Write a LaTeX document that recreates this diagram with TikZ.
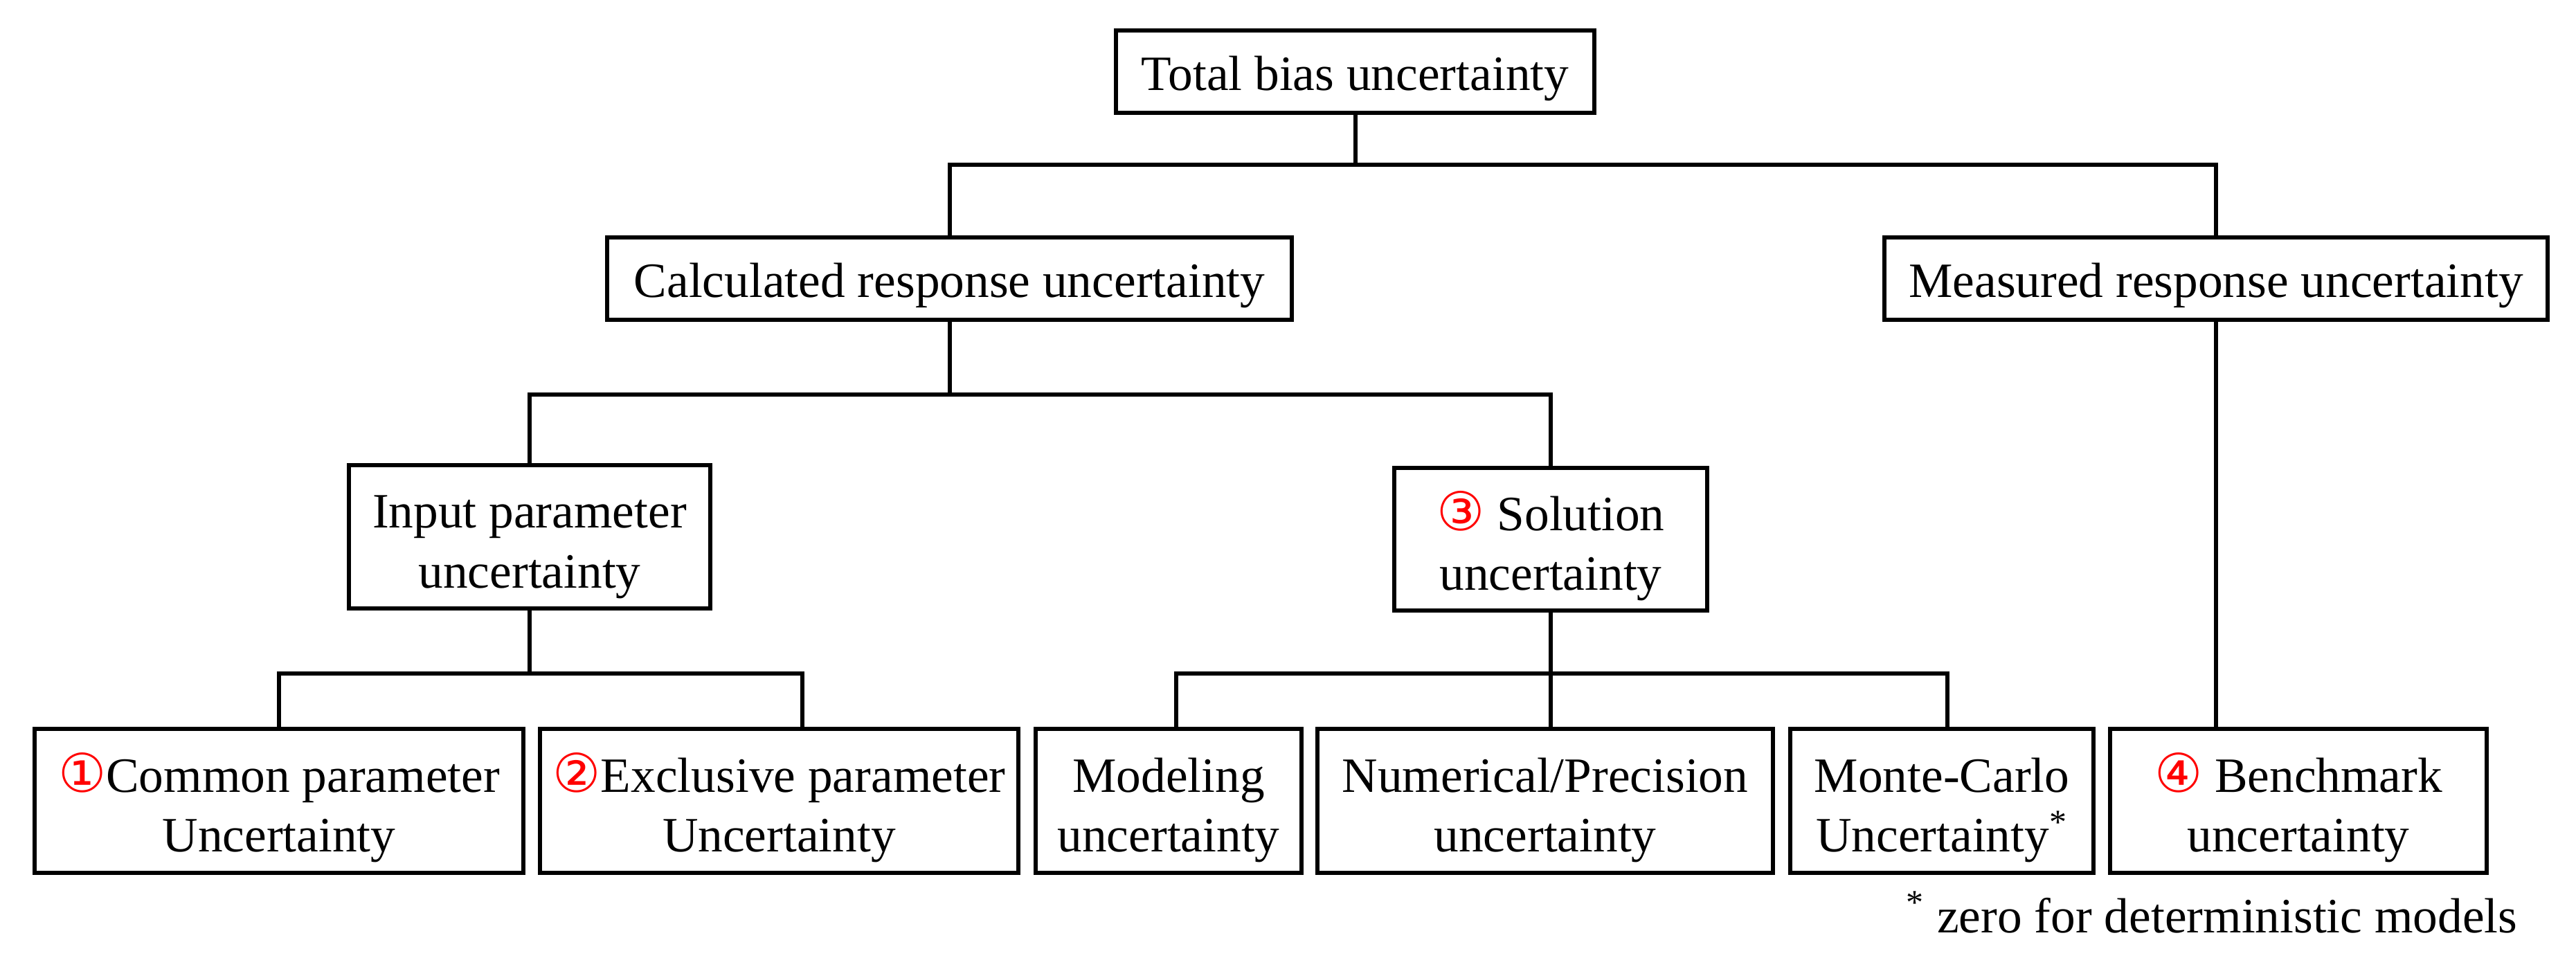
\documentclass[tikz,border=0pt]{standalone}
\usepackage{fontspec}
\setmainfont{Liberation Serif}
\newfontfamily\djvfont{DejaVu Sans}
\newcommand{\cnum}[1]{{\djvfont\fontsize{22}{22}\selectfont\color{red}#1}}
\newcommand{\tstrut}{\rule{0pt}{21.6pt}}
\begin{document}
\begin{tikzpicture}[
  box/.style={draw, line width=1.7pt, inner sep=0pt, align=center,
    font=\fontsize{20.3}{24.6}\selectfont},
  onebox/.style={box, minimum height=1.19cm,
    execute at begin node={\rule{0pt}{19.8pt}}},
  twobox/.style={box},
  conn/.style={line width=1.7pt},
  note/.style={font=\fontsize{20.3}{24.6}\selectfont, inner sep=0pt}
]
\useasboundingbox (0,0) rectangle (37.21,-13.96);
% level 0
\node[onebox, minimum width=6.91cm] (tot) at (19.575,-1.035) {Total bias uncertainty};
% level 1
\node[onebox, minimum width=9.89cm] (calc) at (13.715,-4.025) {Calculated response uncertainty};
\node[onebox, minimum width=9.58cm] (meas) at (32.01,-4.025) {Measured response uncertainty};
% level 2
\node[twobox, minimum width=5.22cm, minimum height=2.07cm] (inp) at (7.65,-7.755) {\tstrut Input parameter\\uncertainty};
\node[twobox, minimum width=4.52cm, minimum height=2.06cm] (sol) at (22.40,-7.79) {\tstrut\cnum{③} Solution\\uncertainty};
% level 3
\node[twobox, minimum width=7.06cm, minimum height=2.08cm] (com) at (4.03,-11.57) {\tstrut\cnum{①}Common parameter\\Uncertainty};
\node[twobox, minimum width=6.91cm, minimum height=2.08cm] (exc) at (11.255,-11.57) {\tstrut\cnum{②}Exclusive parameter\\Uncertainty};
\node[twobox, minimum width=3.84cm, minimum height=2.08cm] (mod) at (16.88,-11.57) {\tstrut Modeling\\uncertainty};
\node[twobox, minimum width=6.58cm, minimum height=2.08cm] (num) at (22.32,-11.57) {\tstrut Numerical/Precision\\uncertainty};
\node[twobox, minimum width=4.38cm, minimum height=2.08cm] (mc) at (28.05,-11.57) {\tstrut Monte-Carlo\\Uncertainty\textsuperscript{*}};
\node[twobox, minimum width=5.44cm, minimum height=2.08cm] (ben) at (33.20,-11.57) {\tstrut\cnum{④} Benchmark\\uncertainty};
% footnote
\node[note, anchor=base east] (fn) at (36.37,-13.47) {\textsuperscript{*} zero for deterministic models};
% junctions
\coordinate (h1) at (19.575,-2.38);
\coordinate (h2) at (13.715,-5.70);
\coordinate (h3) at (7.65,-9.73);
\coordinate (h4) at (22.40,-9.73);
% connectors
\draw[conn] (tot.south) -- (h1);
\draw[conn] (calc.north) |- (h1) -| (meas.north);
\draw[conn] (calc.south) -- (h2);
\draw[conn] (inp.north) |- (h2) -| (sol.north);
\draw[conn] (inp.south) -- (h3);
\draw[conn] (com.north) |- (h3) -| ([xshift=0.335cm]exc.north);
\draw[conn] (sol.south) -- (sol.south |- num.north);
\draw[conn] ([xshift=0.11cm]mod.north) |- (h4) -| ([xshift=0.08cm]mc.north);
\draw[conn] (meas.south) -- (meas.south |- ben.north);
\end{tikzpicture}
\end{document}
